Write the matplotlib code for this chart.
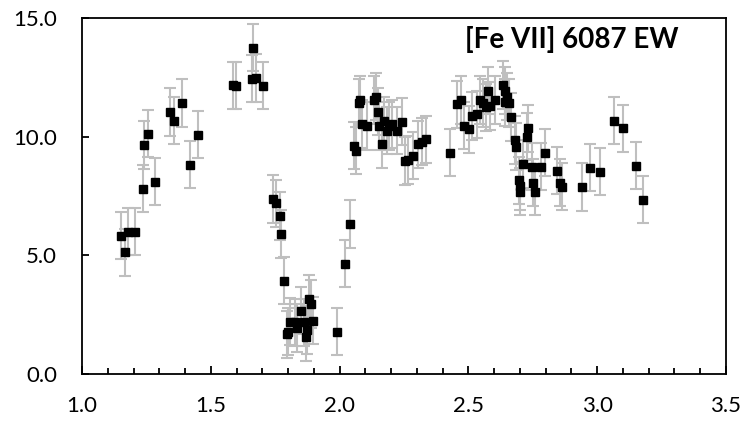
import numpy as np
import matplotlib.pyplot as plt
from matplotlib.ticker import MultipleLocator, FormatStrFormatter

# [Fe VII] 6087 equivalent width vs. time
x_vals = [1.150, 1.167, 1.180, 1.206, 1.236, 1.239, 1.255, 1.283, 1.340, 1.356,
          1.387, 1.418, 1.449,
          1.588, 1.596, 1.659, 1.663, 1.674, 1.701,
          1.740, 1.752, 1.769, 1.771, 1.784,
          1.797, 1.801, 1.807, 1.827, 1.833, 1.849, 1.862, 1.870, 1.872, 1.881,
          1.888, 1.895,
          1.990, 2.021, 2.039,
          2.056, 2.064, 2.075, 2.079, 2.087, 2.105, 2.135, 2.141, 2.148, 2.154,
          2.165, 2.174, 2.183, 2.192, 2.205, 2.221, 2.241, 2.252, 2.267, 2.286,
          2.303, 2.318, 2.334,
          2.427, 2.454, 2.472, 2.484, 2.501, 2.515, 2.535, 2.545, 2.555, 2.567,
          2.577, 2.584, 2.604,
          2.633, 2.641, 2.643, 2.649, 2.659, 2.667, 2.680, 2.685,
          2.695, 2.700, 2.702, 2.712, 2.726, 2.730, 2.747, 2.752, 2.758, 2.782,
          2.797,
          2.843, 2.854, 2.862, 2.940, 2.972, 3.011, 3.065, 3.099, 3.151, 3.178]

ew_vals = [5.83, 5.13, 6.00, 6.00, 7.81, 9.65, 10.13, 8.10, 11.04, 10.68,
           11.42, 8.82, 10.09,
           12.16, 12.15, 12.45, 13.75, 12.47, 12.15,
           7.37, 7.19, 6.66, 5.90, 3.93,
           1.67, 1.78, 2.21, 2.18, 1.93, 2.67, 2.18, 1.55, 1.85, 3.16,
           2.94, 2.25,
           1.78, 4.65, 6.33,
           9.62, 9.41, 11.43, 11.55, 10.54, 10.44, 11.55, 11.69, 11.05, 10.45,
           9.69, 10.68, 10.25, 10.45, 10.54, 10.25, 10.63, 8.98, 9.02, 9.20,
           9.68, 9.79, 9.89,
           9.33, 11.36, 11.55, 10.46, 10.31, 10.88, 10.94, 11.55, 11.41, 11.24,
           11.94, 11.29, 11.55,
           12.18, 11.45, 11.94, 11.69, 11.41, 10.83, 9.86, 9.58,
           8.16, 7.92, 7.68, 8.85, 10.00, 10.35, 8.74, 8.06, 7.68, 8.74,
           9.33,
           8.57, 8.06, 7.89, 7.87, 8.70, 8.53, 10.68, 10.35, 8.78, 7.35]

ew_err = 1.0
label = "[Fe VII] 6087 EW"

plt.rcParams['font.family'] = ['Lato', 'DejaVu Sans']

fig = plt.figure(figsize=(7.46, 4.26), dpi=100)
ax = fig.add_axes([82 / 746, 52 / 426, 644 / 746, 356 / 426])

ax.errorbar(x_vals, ew_vals, yerr=ew_err, fmt='none', ecolor='#bfbfbf',
            elinewidth=1.5, capsize=4.3, capthick=1.5, zorder=2)
ax.plot(x_vals, ew_vals, 's', color='black', markersize=5.5, zorder=3)

ax.set_xlim(1.0, 3.5)
ax.set_ylim(0, 15)
ax.xaxis.set_major_locator(MultipleLocator(0.5))
ax.xaxis.set_minor_locator(MultipleLocator(0.1))
ax.yaxis.set_major_locator(MultipleLocator(5))
ax.xaxis.set_major_formatter(FormatStrFormatter('%.1f'))
ax.yaxis.set_major_formatter(FormatStrFormatter('%.1f'))

ax.tick_params(axis='x', which='major', direction='in', length=6, width=1.3,
               labelsize=16, pad=16, top=False)
ax.tick_params(axis='x', which='minor', direction='in', length=4.3, width=1.3,
               top=False)
ax.tick_params(axis='y', which='major', direction='in', length=5, width=1.3,
               labelsize=16, pad=18, right=False)

for sp in ax.spines.values():
    sp.set_linewidth(1.3)
    sp.set_color('black')

ax.text(0.927, 0.94, label, transform=ax.transAxes, ha='right', va='center',
        fontsize=20, fontweight='bold')

fig.savefig('out.png', dpi=100)
